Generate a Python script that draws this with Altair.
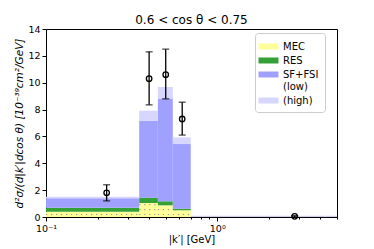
import altair as alt
import pandas as pd

# bin edges in |k'| (GeV)
edges = [0.1, 0.35, 0.45, 0.55, 0.7, 5.0]
# stacked components (cumulative tops)
mec_top = [0.40, 1.04, 0.87, 0.50, 0.03]
res_top = [0.69, 1.44, 1.17, 0.62, 0.04]
low_top = [1.39, 7.17, 8.83, 5.43, 0.08]
high_top = [1.51, 7.92, 9.68, 5.93, 0.10]

# data points
pt_x = [0.226, 0.40, 0.50, 0.624, 2.83]
pt_y = [1.8, 10.3, 10.6, 7.3, 0.05]
pt_lo = [1.2, 8.35, 8.8, 6.1, 0.0]
pt_hi = [2.4, 12.3, 12.5, 8.55, 0.1]

labels = ["MEC", "RES", "SF+FSI|(low)", "(high)"]
colors = ["#ffff9a", "#35a035", "#a0a0ff", "#d6d6ff"]
y_ticks = [0, 2, 4, 6, 8, 10, 12, 14]
x_ticks = [0.1, 0.2, 0.3, 0.4, 0.5, 0.6, 0.7, 0.8, 0.9, 1, 2, 3, 4, 5]
# hatch pattern row spacing (style, in y units)
HATCH_STEP = 0.37

rows = []
hatch = []
for i in range(len(mec_top)):
    bottoms = [0, mec_top[i], res_top[i], low_top[i]]
    tops = [mec_top[i], res_top[i], low_top[i], high_top[i]]
    for j, lab in enumerate(labels):
        rows.append(dict(x0=edges[i], x1=edges[i + 1], y0=bottoms[j], y1=tops[j],
                         comp=lab, order=j))
    lvl = HATCH_STEP / 2
    while lvl < mec_top[i] - 0.05:
        hatch.append(dict(x0=edges[i], x1=edges[i + 1], lvl=lvl))
        lvl += HATCH_STEP
bars = pd.DataFrame(rows)
hatch = pd.DataFrame(hatch)
pts = pd.DataFrame(dict(x=pt_x, y=pt_y, lo=pt_lo, hi=pt_hi))

FONT = "DejaVu Sans"
xscale = alt.Scale(type="log", domain=[0.1, 5.0], nice=False)
yscale = alt.Scale(domain=[0, 14], nice=False)

xaxis = alt.Axis(
    title="|k′| [GeV]",
    values=x_ticks,
    labelExpr="datum.value == 0.1 ? '10⁻¹' : (datum.value == 1 ? '10⁰' : '')",
    tickSize={"condition": {"test": "datum.value == 0.1 || datum.value == 1", "value": 4}, "value": 2},
    labelFlush=False,
    labelOverlap=False,
    grid=False,
)
yaxis = alt.Axis(
    title="d²σ/(d|k′|dcos θ) [10⁻³⁹cm²/GeV]",
    titleFontStyle="italic",
    values=y_ticks,
    labelOverlap=False,
    tickSize=4,
    grid=False,
)


def X(f):
    return alt.X(f, scale=xscale, axis=xaxis)


def Y(f):
    return alt.Y(f, scale=yscale, axis=yaxis)


rects = alt.Chart(bars).mark_rect(opacity=1).encode(
    x=X("x0:Q"),
    x2="x1:Q",
    y=Y("y0:Q"),
    y2="y1:Q",
    color=alt.Color(
        "comp:N",
        scale=alt.Scale(domain=labels, range=colors),
        legend=alt.Legend(
            title=None,
            orient="none",
            legendX=209,
            legendY=4,
            labelExpr="split(datum.label, '|')",
            symbolType="M-1.33,-0.4L1.33,-0.4L1.33,0.4L-1.33,0.4Z",
            symbolSize=225,
            symbolStrokeWidth=0,
            labelFont=FONT,
            labelFontSize=10,
            labelOffset=7,
            rowPadding=1,
            padding=6,
            fillColor="white",
            strokeColor="#cccccc",
            cornerRadius=3,
        ),
    ),
    order="order:Q",
)

dots = alt.Chart(hatch).mark_rule(
    color="#9a9a9a", strokeDash=[1.2, 3.8], strokeWidth=1.2
).encode(x=X("x0:Q"), x2="x1:Q", y=Y("lvl:Q"))

err = alt.Chart(pts).mark_errorbar(
    ticks={"size": 7, "color": "black", "thickness": 1.3}, color="black", thickness=1.3
).encode(
    x=X("x:Q"),
    y=Y("lo:Q"),
    y2="hi:Q",
)
circ = alt.Chart(pts).mark_point(
    shape="circle", filled=False, color="black", size=30, strokeWidth=1.3, opacity=1
).encode(x=X("x:Q"), y=Y("y:Q"))

chart = (
    alt.layer(rects, dots, err, circ)
    .properties(
        width=291,
        height=188,
        title=alt.TitleParams(
            "0.6 < cos θ < 0.75", font=FONT, fontSize=12, fontWeight="normal", offset=-3
        ),
        autosize=alt.AutoSizeParams(type="none"),
        padding={"left": 38, "top": 21, "right": 20, "bottom": 32},
        background="white",
    )
    .configure_view(stroke="black", strokeWidth=1)
    .configure_axis(
        labelFont=FONT,
        titleFont=FONT,
        labelFontSize=9.5,
        titleFontSize=10,
        titleFontWeight="normal",
        labelColor="black",
        titleColor="black",
        domainColor="black",
        tickColor="black",
    )
    .configure_axisY(titleFontSize=10.5, titlePadding=3, labelPadding=2)
    .configure_axisX(titlePadding=2, labelPadding=2)
)

chart.save("out.html", embed_options={"renderer": "svg", "actions": False})
